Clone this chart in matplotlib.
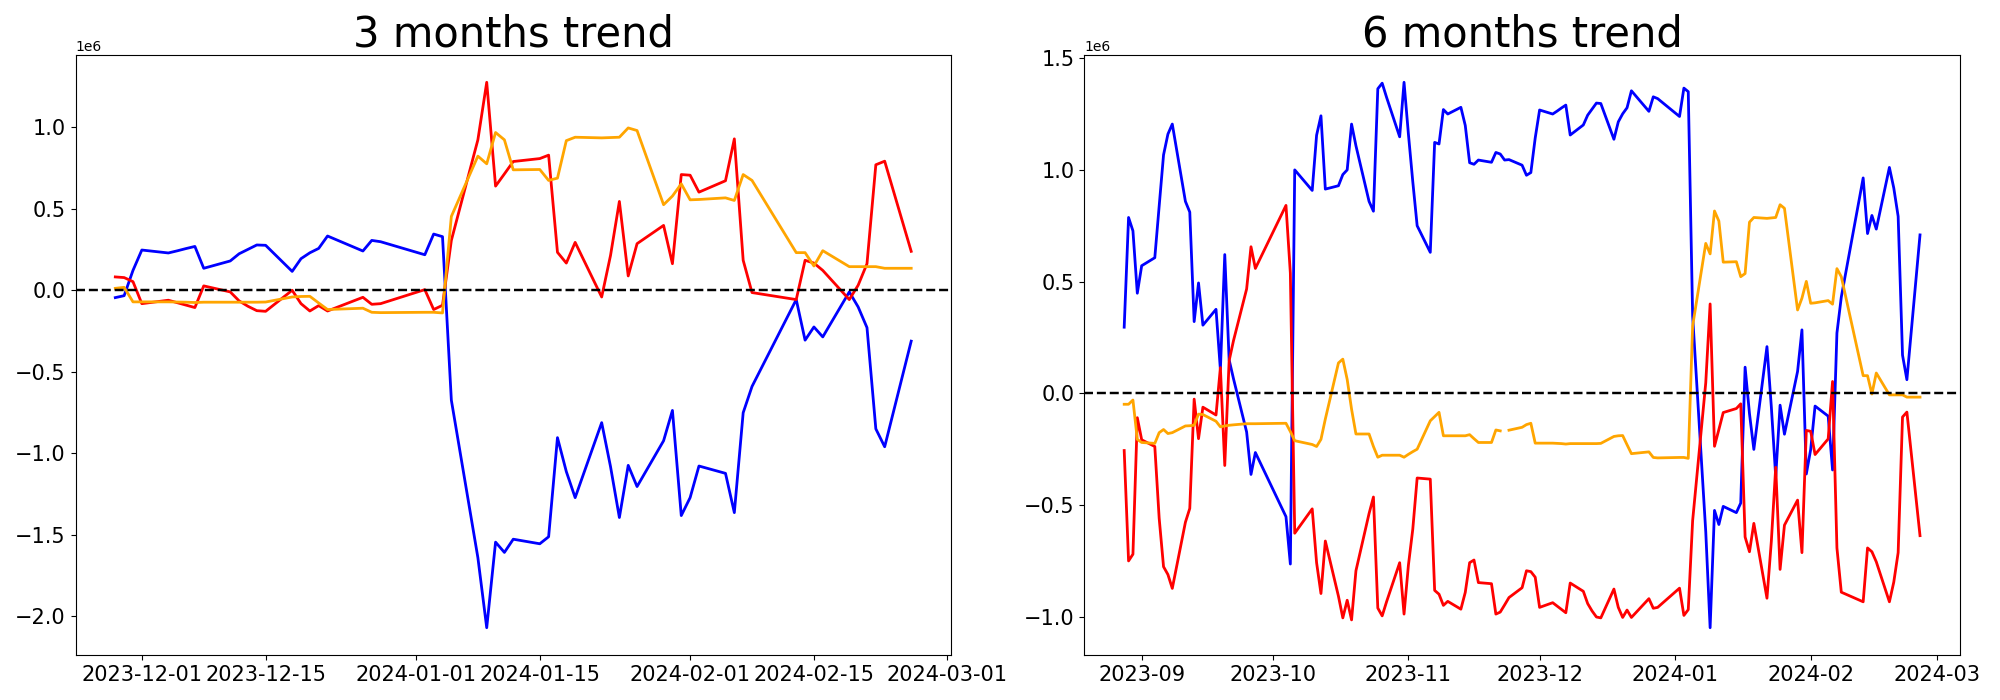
import matplotlib
matplotlib.use("Agg")
import matplotlib.pyplot as plt
import numpy as np
import pandas as pd

NaN = float("nan")

# ---------------- 3 months window (values in millions) ----------------
dates_3m = [
    "2023-11-28", "2023-11-29", "2023-11-30", "2023-12-01", "2023-12-04", "2023-12-05",
    "2023-12-06", "2023-12-07", "2023-12-08", "2023-12-11", "2023-12-12", "2023-12-13",
    "2023-12-14", "2023-12-15", "2023-12-18", "2023-12-19", "2023-12-20", "2023-12-21",
    "2023-12-22", "2023-12-26", "2023-12-27", "2023-12-28", "2024-01-02", "2024-01-03",
    "2024-01-04", "2024-01-05", "2024-01-08", "2024-01-09", "2024-01-10", "2024-01-11",
    "2024-01-12", "2024-01-15", "2024-01-16", "2024-01-17", "2024-01-18", "2024-01-19",
    "2024-01-22", "2024-01-23", "2024-01-24", "2024-01-25", "2024-01-26", "2024-01-29",
    "2024-01-30", "2024-01-31", "2024-02-01", "2024-02-02", "2024-02-05", "2024-02-06",
    "2024-02-07", "2024-02-08", "2024-02-13", "2024-02-14", "2024-02-15", "2024-02-16",
    "2024-02-19", "2024-02-20", "2024-02-21", "2024-02-22", "2024-02-23", "2024-02-26",
]
blue_3m = [
    -0.045, -0.033, 0.122, 0.247, 0.229, 0.242, 0.256, 0.269, 0.135, 0.180, 0.224, 0.251,
    0.278, 0.276, 0.116, 0.194, 0.230, 0.257, 0.333, 0.241, 0.306, 0.298, 0.218, 0.345,
    0.329, -0.674, -1.640, -2.070, -1.545, -1.608, -1.527, -1.555, -1.512, -0.904, -1.112, -1.272,
    -0.812, -1.082, -1.394, -1.074, -1.204, -0.923, -0.737, -1.382, -1.272, -1.078, -1.123, -1.364,
    -0.751, -0.590, -0.057, -0.306, -0.225, -0.286, -0.010, -0.102, -0.229, -0.850, -0.960, -0.312,
]
red_3m = [
    0.082, 0.078, 0.053, -0.082, -0.061, -0.076, -0.091, -0.106, 0.027, -0.010, -0.065, -0.098,
    -0.125, -0.129, 0.000, -0.082, -0.127, -0.094, -0.127, -0.043, -0.086, -0.082, 0.004, -0.118,
    -0.092, 0.306, 0.923, 1.276, 0.639, 0.714, 0.790, 0.808, 0.829, 0.233, 0.167, 0.294,
    -0.041, 0.214, 0.545, 0.088, 0.286, 0.398, 0.163, 0.710, 0.706, 0.602, 0.672, 0.929,
    0.184, -0.014, -0.057, 0.184, 0.167, 0.122, -0.057, 0.031, 0.163, 0.770, 0.792, 0.239,
]
orange_3m = [
    0.012, 0.018, -0.071, -0.071, -0.071, -0.072, -0.073, -0.075, -0.073, -0.073, -0.073, -0.073,
    -0.073, -0.072, -0.041, -0.038, -0.037, -0.078, -0.118, -0.110, -0.135, -0.137, -0.135, -0.135,
    -0.139, 0.453, 0.823, 0.776, 0.968, 0.923, 0.739, 0.741, 0.674, 0.688, 0.918, 0.939,
    0.935, 0.937, 0.939, 0.996, 0.980, 0.525, 0.578, 0.653, 0.555, 0.557, 0.567, 0.551,
    0.710, 0.674, 0.231, 0.231, 0.149, 0.243, 0.145, 0.145, 0.145, 0.145, 0.135, 0.135,
]

# ---------------- 6 months window (values in millions) ----------------
dates_6m = [
    "2023-08-28", "2023-08-29", "2023-08-30", "2023-08-31", "2023-09-01", "2023-09-04",
    "2023-09-05", "2023-09-06", "2023-09-07", "2023-09-08", "2023-09-11", "2023-09-12",
    "2023-09-13", "2023-09-14", "2023-09-15", "2023-09-18", "2023-09-19", "2023-09-20",
    "2023-09-21", "2023-09-22", "2023-09-25", "2023-09-26", "2023-09-27", "2023-10-04",
    "2023-10-05", "2023-10-06", "2023-10-10", "2023-10-11", "2023-10-12", "2023-10-13",
    "2023-10-16", "2023-10-17", "2023-10-18", "2023-10-19", "2023-10-20", "2023-10-23",
    "2023-10-24", "2023-10-25", "2023-10-26", "2023-10-27", "2023-10-30", "2023-10-31",
    "2023-11-01", "2023-11-02", "2023-11-03", "2023-11-06", "2023-11-07", "2023-11-08",
    "2023-11-09", "2023-11-10", "2023-11-13", "2023-11-14", "2023-11-15", "2023-11-16",
    "2023-11-17", "2023-11-20", "2023-11-21", "2023-11-22", "2023-11-23", "2023-11-24",
    "2023-11-27",
] + dates_3m
blue_6m = [
    0.296, 0.787, 0.727, 0.448, 0.571, 0.607, 0.838, 1.067, 1.160, 1.205, 0.859, 0.811,
    0.321, 0.494, 0.305, 0.376, 0.106, 0.621, 0.150, 0.065, -0.173, -0.363, -0.265, -0.552,
    -0.764, 1.000, 0.908, 1.155, 1.242, 0.914, 0.929, 0.979, 1.000, 1.205, 1.108, 0.859,
    0.815, 1.363, 1.388, 1.325, 1.148, 1.392, 1.160, 0.947, 0.750, 0.631, 1.123, 1.116,
    1.270, 1.250, 1.280, 1.199, 1.032, 1.025, 1.044, 1.034, 1.078, 1.071, 1.044, 1.046,
    1.021,
    0.976, 0.988, 1.143, 1.268, 1.250, 1.263, 1.277, 1.290, 1.156, 1.201, 1.245, 1.272,
    1.299, 1.297, 1.137, 1.215, 1.251, 1.278, 1.354, 1.262, 1.327, 1.319, 1.239, 1.366,
    1.350, 0.347, -0.619, -1.049, -0.524, -0.587, -0.506, -0.534, -0.491, 0.117, -0.091, -0.251,
    0.209, -0.061, -0.373, -0.053, -0.183, 0.098, 0.284, -0.361, -0.251, -0.057, -0.102, -0.343,
    0.270, 0.431, 0.964, 0.715, 0.796, 0.735, 1.011, 0.919, 0.792, 0.171, 0.061, 0.709,
]
red_6m = [
    -0.256, -0.750, -0.720, -0.109, -0.208, -0.238, -0.559, -0.776, -0.811, -0.873, -0.577, -0.515,
    -0.026, -0.203, -0.062, -0.097, 0.115, -0.323, 0.146, 0.236, 0.467, 0.656, 0.559, 0.841,
    0.538, -0.626, -0.517, -0.758, -0.896, -0.661, -0.908, -1.005, -0.926, -1.014, -0.794, -0.538,
    -0.464, -0.961, -0.996, -0.933, -0.758, -0.988, -0.769, -0.608, -0.379, -0.384, -0.882, -0.899,
    -0.949, -0.931, -0.966, -0.891, -0.758, -0.746, -0.847, -0.852, -0.988, -0.979, -0.947, -0.914,
    -0.870,
    -0.794, -0.798, -0.823, -0.958, -0.937, -0.952, -0.967, -0.982, -0.849, -0.886, -0.941, -0.974,
    -1.001, -1.005, -0.876, -0.958, -1.003, -0.970, -1.003, -0.919, -0.962, -0.958, -0.872, -0.994,
    -0.968, -0.570, 0.047, 0.400, -0.237, -0.162, -0.086, -0.068, -0.047, -0.643, -0.709, -0.582,
    -0.917, -0.662, -0.331, -0.788, -0.590, -0.478, -0.713, -0.166, -0.170, -0.274, -0.204, 0.053,
    -0.692, -0.890, -0.933, -0.692, -0.709, -0.754, -0.933, -0.845, -0.713, -0.106, -0.084, -0.637,
]
orange_6m = [
    -0.049, -0.049, -0.030, -0.206, -0.220, -0.224, -0.176, -0.162, -0.180, -0.176, -0.146, -0.145,
    -0.143, -0.093, -0.095, -0.125, -0.150, -0.146, -0.143, -0.141, -0.136, -0.136, -0.136, -0.134,
    -0.171, -0.212, -0.229, -0.238, -0.206, -0.115, 0.136, 0.153, 0.062, -0.071, -0.182, -0.182,
    -0.238, -0.286, -0.277, -0.277, -0.277, -0.286, -0.273, -0.261, -0.250, -0.123, -0.104, -0.085,
    -0.190, -0.190, -0.190, -0.190, -0.185, -0.203, -0.220, -0.220, -0.164, -0.168, NaN, -0.165,
    -0.152,
    -0.140, -0.134, -0.223, -0.223, -0.223, -0.224, -0.225, -0.227, -0.225, -0.225, -0.225, -0.225,
    -0.225, -0.224, -0.193, -0.190, -0.189, -0.230, -0.270, -0.262, -0.287, -0.289, -0.287, -0.287,
    -0.291, 0.301, 0.671, 0.624, 0.816, 0.771, 0.587, 0.589, 0.522, 0.536, 0.766, 0.787,
    0.783, 0.785, 0.787, 0.844, 0.828, 0.373, 0.426, 0.501, 0.403, 0.405, 0.415, 0.399,
    0.558, 0.522, 0.079, 0.079, -0.003, 0.091, -0.007, -0.007, -0.007, -0.007, -0.017, -0.017,
]

titles = ["3 months trend", "6 months trend"]
series_colors = ["blue", "red", "orange"]

panels = [
    (dates_3m, [blue_3m, red_3m, orange_3m]),
    (dates_6m, [blue_6m, red_6m, orange_6m]),
]

fig = plt.figure(figsize=(20, 7), dpi=100)
positions = [
    [0.03775, 0.0643, 0.43775, 0.8571],
    [0.5422, 0.0643, 0.4377, 0.8571],
]

for pos, title, (dates, series) in zip(positions, titles, panels):
    ax = fig.add_axes(pos)
    x = pd.to_datetime(dates)
    for vals, col in zip(series, series_colors):
        ax.plot(x, np.array(vals, dtype=float) * 1e6, color=col, linewidth=2)
    ax.axhline(0, color="black", linestyle="--", linewidth=1.75)
    ax.set_title(title, fontsize=30)
    ax.tick_params(axis="both", labelsize=15)

fig.savefig("out.png", dpi=100)
